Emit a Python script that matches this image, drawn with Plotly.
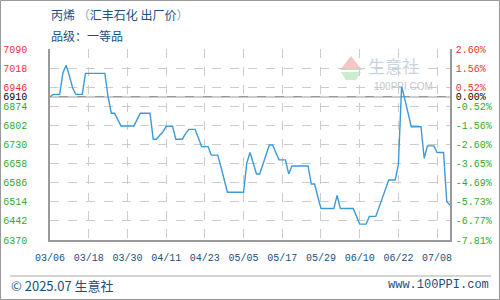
import plotly.graph_objects as go

# Daily ex-works price of propylene (Huifeng Petrochemical), 03/06 - 07/08
price = [
    6910, 6919, 6919, 6919, 7000, 7029, 6989, 6944, 6919, 6919,
    6919, 6998, 6998, 6998, 6998, 6998, 6998, 6998, 6910, 6848,
    6848, 6822, 6800, 6800, 6800, 6800, 6800, 6824, 6848, 6848,
    6848, 6848, 6750, 6750, 6765, 6777, 6799, 6799, 6799, 6750,
    6750, 6750, 6770, 6787, 6787, 6787, 6755, 6722, 6722, 6722,
    6690, 6690, 6690, 6645, 6598, 6550, 6550, 6550, 6550, 6550,
    6550, 6660, 6700, 6660, 6619, 6619, 6655, 6690, 6728, 6728,
    6700, 6672, 6672, 6672, 6619, 6649, 6649, 6649, 6649, 6649,
    6649, 6581, 6581, 6535, 6489, 6489, 6489, 6489, 6489, 6538,
    6489, 6489, 6489, 6489, 6489, 6460, 6430, 6430, 6430, 6459,
    6459, 6459, 6493, 6527, 6562, 6596, 6596, 6596, 6655, 6950,
    6900, 6850, 6797, 6797, 6797, 6797, 6678, 6725, 6725, 6725,
    6700, 6700, 6700, 6514, 6502,
]
day_index = list(range(len(price)))

base_price = 6910
date_ticks = [0, 12, 24, 36, 48, 60, 72, 84, 96, 108, 120]
date_labels = ["03/06", "03/18", "03/30", "04/11", "04/23", "05/05",
               "05/17", "05/29", "06/10", "06/22", "07/08"]

price_ticks = [7090, 7018, 6946, 6910, 6874, 6802, 6730, 6658, 6586, 6514, 6442, 6370]
change_labels = ["2.60%", "1.56%", "0.52%", "0.00%", "-0.52%", "-1.56%", "-2.60%",
                 "-3.65%", "-4.69%", "-5.73%", "-6.77%", "-7.81%"]

RED = "#ee3333"
GREEN = "#2faa2f"
BLACK = "#000000"
NAVY = "#1a4f80"


def tone(v):
    if v > base_price:
        return RED
    if v < base_price:
        return GREEN
    return BLACK


left_text = [f'<span style="color:{tone(v)}">{v}</span>' for v in price_ticks]
right_text = [f'<span style="color:{tone(v)}">{t}</span>'
              for v, t in zip(price_ticks, change_labels)]

W, H = 500, 300
L, R, T, B = 50, 50, 49, 60
PW, PH = W - L - R, H - T - B


def px(x):
    return (x - L) / PW


def py(y):
    return (H - B - y) / PH


fig = go.Figure()
fig.add_trace(go.Scatter(
    x=day_index, y=price, mode="lines",
    line=dict(color="#3c9ad8", width=1.4),
    hoverinfo="skip", showlegend=False,
))
# invisible trace that carries the right-hand percentage axis
fig.add_trace(go.Scatter(
    x=[day_index[0]], y=[price[0]], yaxis="y2", mode="markers",
    marker=dict(opacity=0), hoverinfo="skip", showlegend=False,
))

y_range = [price_ticks[-1], price_ticks[0]]
tick_font = dict(family="Liberation Mono, monospace", size=10)

fig.update_layout(
    width=W, height=H,
    margin=dict(l=L, r=R, t=T, b=B, autoexpand=False),
    paper_bgcolor="white", plot_bgcolor="white",
    xaxis=dict(
        range=[0, 124], tickvals=date_ticks, ticktext=date_labels,
        tickfont=dict(family="Liberation Mono, monospace", size=10, color=NAVY),
        showgrid=True, gridcolor="#cccccc", griddash="dash", gridwidth=1,
        showline=True, linecolor="#999999", linewidth=1.5,
        ticks="", ticklabelstandoff=7, zeroline=False, automargin=False,
    ),
    yaxis=dict(
        range=y_range, tickvals=price_ticks, ticktext=left_text,
        tickfont=tick_font,
        showgrid=True, gridcolor="#cccccc", griddash="dash", gridwidth=1,
        showline=True, linecolor="#999999", linewidth=1.5,
        ticks="", ticklabelstandoff=19, zeroline=False, automargin=False,
    ),
    yaxis2=dict(
        range=y_range, overlaying="y", side="right",
        tickvals=price_ticks, ticktext=right_text, tickfont=tick_font,
        showgrid=False, showline=True, linecolor="#999999", linewidth=1.5,
        ticks="", ticklabelstandoff=2, zeroline=False, automargin=False,
    ),
)

shapes = [
    # base price line
    dict(type="line", xref="paper", yref="y", x0=0, x1=1, y0=base_price, y1=base_price,
         line=dict(color="#999999", width=1.5), layer="below"),
    # footer rule
    dict(type="line", xref="paper", yref="paper", x0=px(10), x1=px(491), y0=py(276), y1=py(276),
         line=dict(color="#aaaaaa", width=1)),
    # outer frame
    dict(type="rect", xref="paper", yref="paper", x0=px(0.5), x1=px(499.5), y0=py(0.5), y1=py(299.5),
         line=dict(color="#999999", width=1)),
    # logo: roof and base
    dict(type="path", xref="paper", yref="paper",
         path=f"M {px(340)} {py(70)} L {px(351)} {py(56)} L {px(362)} {py(70)} Z",
         fillcolor="#f6c6c6", line=dict(width=0), layer="below"),
    dict(type="path", xref="paper", yref="paper",
         path=f"M {px(341)} {py(72)} L {px(361)} {py(72)} L {px(356)} {py(80)} L {px(346)} {py(80)} Z",
         fillcolor="#cdeccd", line=dict(width=0), layer="below"),
]
fig.update_layout(shapes=shapes)

cjk = "Noto Sans CJK SC"
annotations = [
    dict(text='丙烯 <span style="color:#7fa8c8">（</span>汇丰石化 出厂价<span style="color:#7fa8c8">）</span>',
         x=px(49), y=py(15), xanchor="left", yanchor="middle",
         font=dict(family=cjk, size=12, color=NAVY)),
    dict(text="品级：一等品", x=px(49), y=py(35), xanchor="left", yanchor="middle",
         font=dict(family=cjk, size=12, color=NAVY)),
    dict(text="© 2025.07 生意社", x=px(9), y=py(285), xanchor="left", yanchor="middle",
         font=dict(family=cjk, size=13, color=NAVY)),
    dict(text="www.100PPI.com", x=px(491), y=py(285), xanchor="right", yanchor="middle",
         font=dict(family="Liberation Mono, monospace", size=12, color=NAVY)),
    # watermark
    dict(text="生意社", x=px(366), y=py(65), xanchor="left", yanchor="middle",
         font=dict(family=cjk, size=17, color="#c9d4e2")),
    dict(text="100PPI.COM", x=px(372), y=py(86), xanchor="left", yanchor="middle",
         font=dict(family="Liberation Sans, sans-serif", size=10, color="#c8c8c8")),
]
for a in annotations:
    a.update(xref="paper", yref="paper", showarrow=False)
fig.update_layout(annotations=annotations)

fig.write_html("out.html")
